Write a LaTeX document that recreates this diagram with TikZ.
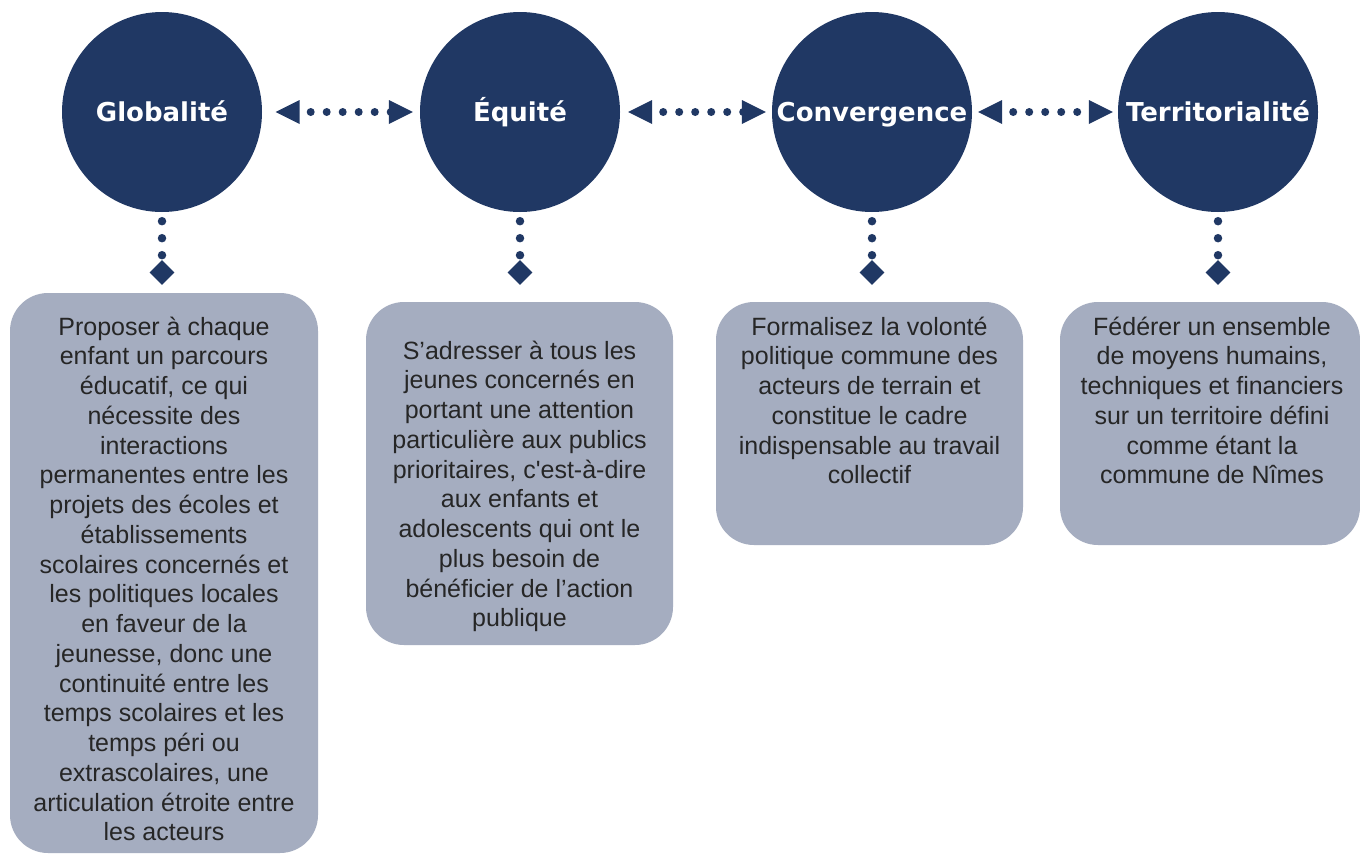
\documentclass[tikz,border=0pt]{standalone}
\usepackage{fontspec}
\setmainfont{Liberation Sans}[Ligatures=TeXOff]
\newfontfamily\titlefont{DejaVu Sans}
\usetikzlibrary{shapes.geometric,arrows.meta}
\definecolor{navy}{HTML}{203864}
\definecolor{boxgrey}{HTML}{A5ADC0}
\definecolor{txt}{HTML}{262626}
\begin{document}
\begin{tikzpicture}[x=1pt,y=-1pt,
 circ/.style={circle,fill=navy,minimum size=200pt,inner sep=0pt,text=white,
   text height=18pt,text depth=0pt,font=\titlefont\bfseries\fontsize{26}{30}\selectfont},
 panel/.style={rectangle,fill=boxgrey,rounded corners=38pt,inner sep=0pt},
 body/.style={anchor=north,inner sep=0pt,align=center,text=txt,
   font=\fontsize{25}{29.75}\selectfont},
 tri/.style={navy,draw opacity=0,line width=0pt,
   {Triangle[length=24pt,width=24pt,line width=0pt]}-{Triangle[length=24pt,width=24pt,line width=0pt]}},
 hdots/.style={navy,line width=8pt,line cap=round,dash pattern=on 0pt off 16pt},
 vdots/.style={navy,line width=8.5pt,line cap=round,dash pattern=on 0pt off 17pt},
 diam/.style={diamond,fill=navy,minimum width=25pt,minimum height=25pt,inner sep=0pt},
]
\useasboundingbox[fill=white] (0,0) rectangle (1360,854);

% circles
\node[circ] (c1) at (162,112) {Globalité};
\node[circ] (c2) at (520,112) {Équité};
\node[circ] (c3) at (872,112) {Convergence};
\node[circ] (c4) at (1218,112) {Territorialité};

% horizontal connectors
\draw[tri,shorten <=13.5pt,shorten >=7pt] (c1.east) -- (c2.west);
\draw[hdots,shorten <=48.5pt,shorten >=29pt] (c1.east) -- (c2.west);
\draw[tri,shorten <=8pt,shorten >=6pt] (c2.east) -- (c3.west);
\draw[hdots,shorten <=43pt,shorten >=28.5pt] (c2.east) -- (c3.west);
\draw[tri,shorten <=6pt,shorten >=5pt] (c3.east) -- (c4.west);
\draw[hdots,shorten <=41pt,shorten >=24.5pt] (c3.east) -- (c4.west);

% diamonds and vertical dots
\node[diam] (d1) at (162,272.5) {};
\node[diam] (d2) at (520,272.5) {};
\node[diam] (d3) at (872,272.5) {};
\node[diam] (d4) at (1218,272.5) {};
\draw[vdots,shorten <=9pt] (c1.south) -- (d1.north);
\draw[vdots,shorten <=9pt] (c2.south) -- (d2.north);
\draw[vdots,shorten <=9pt] (c3.south) -- (d3.north);
\draw[vdots,shorten <=9pt] (c4.south) -- (d4.north);

% panels
\node[panel,minimum width=308pt,minimum height=560pt] (b1) at (164,573) {};
\node[panel,minimum width=307pt,minimum height=343pt] (b2) at (519.5,473.5) {};
\node[panel,minimum width=307pt,minimum height=243pt] (b3) at (869.5,423.5) {};
\node[panel,minimum width=300pt,minimum height=243pt] (b4) at (1210,423.5) {};

% texts
\node[body] (t1) at (164,315) {\rule{0pt}{20pt}Proposer à chaque\\enfant un parcours\\éducatif, ce qui\\nécessite des\\interactions\\permanentes entre les\\projets des écoles et\\établissements\\scolaires concernés et\\les politiques locales\\en faveur de la\\jeunesse, donc une\\continuité entre les\\temps scolaires et les\\temps péri ou\\extrascolaires, une\\articulation étroite entre\\les acteurs};
\node[body] (t2) at (519.5,339) {\rule{0pt}{20pt}S’adresser à tous les\\jeunes concernés en\\portant une attention\\particulière aux publics\\prioritaires, c'est-à-dire\\aux enfants et\\adolescents qui ont le\\plus besoin de\\bénéficier de l’action\\publique};
\node[body] (t3) at (869.5,315) {\rule{0pt}{20pt}Formalisez la volonté\\politique commune des\\acteurs de terrain et\\constitue le cadre\\indispensable au travail\\collectif};
\node[body] (t4) at (1212,315) {\rule{0pt}{20pt}Fédérer un ensemble\\de moyens humains,\\techniques et financiers\\sur un territoire défini\\comme étant la\\commune de Nîmes};
\end{tikzpicture}
\end{document}
